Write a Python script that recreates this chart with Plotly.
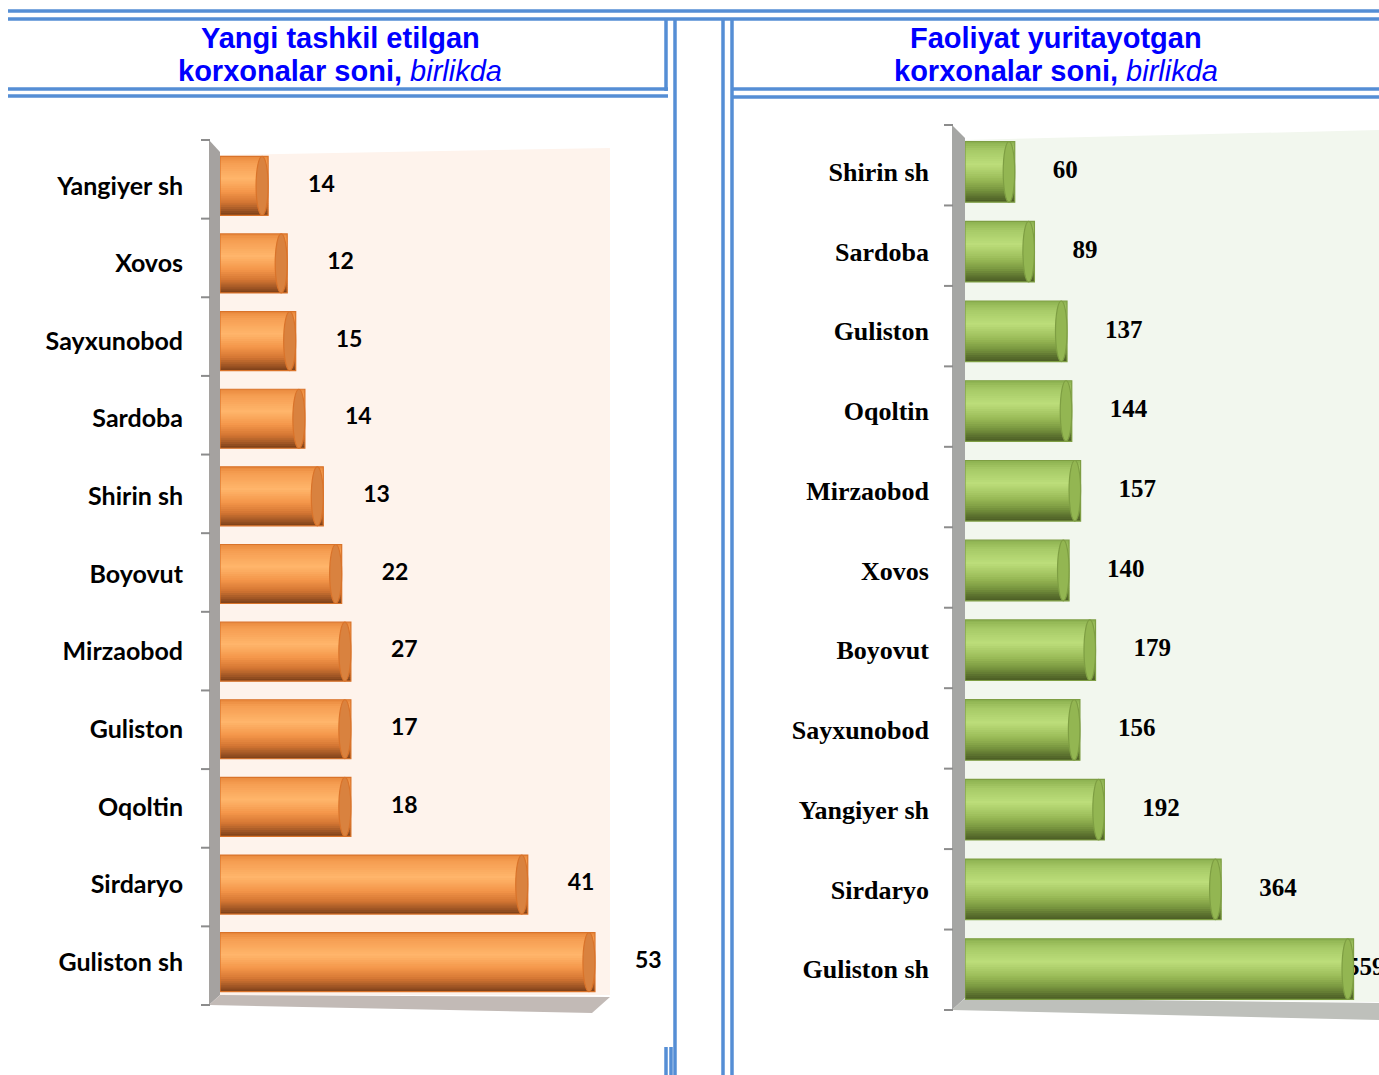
import plotly.graph_objects as go

W_PX, H_PX = 1379, 1075

# left chart: newly created enterprises
left_cats = ["Yangiyer sh", "Xovos", "Sayxunobod", "Sardoba", "Shirin sh", "Boyovut",
             "Mirzaobod", "Guliston", "Oqoltin", "Sirdaryo", "Guliston sh"]
left_labels = [14, 12, 15, 14, 13, 22, 27, 17, 18, 41, 53]
# in the source the cylinder lengths do not follow the printed numbers
left_lengths = [6.8, 9.5, 10.7, 12.0, 14.6, 17.2, 18.5, 18.5, 18.5, 43.5, 53]

# right chart: operating enterprises
right_cats = ["Shirin sh", "Sardoba", "Guliston", "Oqoltin", "Mirzaobod", "Xovos",
              "Boyovut", "Sayxunobod", "Yangiyer sh", "Sirdaryo", "Guliston sh"]
right_values = [60, 89, 137, 144, 157, 140, 179, 156, 192, 364, 559]

left_title = ["<b>Yangi tashkil etilgan</b>", "<b>korxonalar soni,</b> <i>birlikda</i>"]
right_title = ["<b>Faoliyat yuritayotgan</b>", "<b>korxonalar soni,</b> <i>birlikda</i>"]

BORDER = "#558ED5"


def px(x):
    return x / W_PX


def py(y):
    return 1 - y / H_PX


def hex2rgb(h):
    h = h.lstrip("#")
    return [int(h[i:i + 2], 16) for i in (0, 2, 4)]


def gradient(stops, n):
    # colour samples for the cylinder shading, top to bottom
    out = []
    for k in range(n):
        t = (k + 0.5) / n
        for (p0, c0), (p1, c1) in zip(stops[:-1], stops[1:]):
            if p0 <= t <= p1:
                a, b = hex2rgb(c0), hex2rgb(c1)
                f = (t - p0) / (p1 - p0)
                out.append("rgb(%d,%d,%d)" % tuple(round(a[i] + (b[i] - a[i]) * f) for i in range(3)))
                break
    return out


orange_stops = [(0, "#E98A3E"), (0.12, "#F69F53"), (0.38, "#FFB56B"), (0.6, "#F4964A"),
                (0.78, "#D47633"), (0.92, "#9C5424"), (1, "#7A3E17")]
green_stops = [(0, "#8CB150"), (0.14, "#A6C966"), (0.38, "#BCDD7A"), (0.6, "#9EBF5B"),
               (0.78, "#7C9A41"), (0.92, "#5A6F2E"), (1, "#4A5C24")]


def add_cylinders(fig, vals, cats, stops, edge, cap, xa, ya, capw, base, width=0.76, n=28):
    cols = gradient(stops, n)
    h = width / n
    lens = [v - base for v in vals]  # bars grow out of the side wall
    for k, c in enumerate(cols):
        fig.add_bar(x=lens, y=cats, base=base, orientation="h", width=h * 1.8 if k < n - 1 else h,
                    offset=-width / 2 + k * h, marker=dict(color=c, line_width=0),
                    xaxis=xa, yaxis=ya, hoverinfo="skip", showlegend=False)
    fig.add_bar(x=lens, y=cats, base=base, orientation="h", width=width, offset=-width / 2,
                marker=dict(color="rgba(0,0,0,0)", line=dict(color=edge, width=1.2)),
                xaxis=xa, yaxis=ya, hoverinfo="skip", showlegend=False)
    xr = "x" if xa == "x" else "x2"
    yr = "y" if ya == "y" else "y2"
    for i, v in enumerate(vals):
        fig.add_shape(type="circle", xref=xr, yref=yr, x0=v - capw, x1=v,
                      y0=i - width / 2, y1=i + width / 2,
                      fillcolor=cap, line=dict(color=edge, width=1.2))


def poly(pts):
    return "M " + " L ".join("%f,%f" % (px(x), py(y)) for x, y in pts) + " Z"


fig = go.Figure()

# ---- 3D walls (drawn underneath) ----
walls = [
    # left chart: back wall, side wall, floor
    (poly([(220, 155), (610, 148), (610, 995), (220, 995)]), "#FEF3EC"),
    (poly([(209, 140), (220, 152), (220, 995), (209, 1005)]), "#A5A2A0"),
    (poly([(209, 1005), (220, 995), (610, 997), (592, 1013)]), "#C2BAB6"),
    # right chart
    (poly([(965, 140), (1379, 130), (1379, 1002), (965, 998)]), "#F2F7EE"),
    (poly([(952, 125), (965, 138), (965, 998), (952, 1010)]), "#A5A6A4"),
    (poly([(952, 1010), (965, 998), (1379, 1003), (1379, 1020)]), "#BEC0BB"),
]
for path, col in walls:
    fig.add_shape(type="path", path=path, xref="paper", yref="paper", fillcolor=col,
                  line_width=0, layer="below")

# tick marks on the side walls
for k in range(len(left_cats) + 1):
    y = 140 + k * (1005 - 140) / len(left_cats)
    fig.add_shape(type="line", xref="paper", yref="paper", x0=px(201), x1=px(210), y0=py(y), y1=py(y),
                  line=dict(color="#8C8C8C", width=2))
for k in range(len(right_cats) + 1):
    y = 125 + k * (1010 - 125) / len(right_cats)
    fig.add_shape(type="line", xref="paper", yref="paper", x0=px(944), x1=px(953), y0=py(y), y1=py(y),
                  line=dict(color="#8C8C8C", width=2))

# axis scales (px per unit) and ranges
l_px, l_zero = 7.075, 220
r_px, r_zero = 0.679, 974
l_rng = [0, (660 - l_zero) / l_px]
r_rng = [(965 - r_zero) / r_px, (1379 - r_zero) / r_px]

# ---- cylinders ----
add_cylinders(fig, left_lengths, left_cats, orange_stops, "#D9732A", "#D9823F", "x", "y",
              capw=1.7, base=l_rng[0])
add_cylinders(fig, right_values, right_cats, green_stops, "#7E9E43", "#93B652", "x2", "y2",
              capw=17, base=r_rng[0])

# value labels
fig.add_scatter(x=[v + 40 / l_px for v in left_lengths], y=left_cats, mode="text",
                text=[str(v) for v in left_labels], textposition="middle right",
                textfont=dict(family="Lato", size=23, color="black", weight="bold"),
                xaxis="x", yaxis="y", cliponaxis=False, hoverinfo="skip", showlegend=False)
fig.add_scatter(x=[min(v + 38 / r_px, r_rng[1] - 32 / r_px) for v in right_values], y=right_cats,
                mode="text", text=[str(v) for v in right_values], textposition="middle right",
                textfont=dict(family="Liberation Serif", size=25, color="black", weight="bold"),
                xaxis="x2", yaxis="y2", cliponaxis=False, hoverinfo="skip", showlegend=False)

# ---- table borders ----
lines = [
    (8, 11, 1379, 11), (8, 19, 1379, 19),
    (8, 89, 668, 89), (8, 96, 668, 96), (666, 18, 666, 91),
    (675, 18, 675, 1075), (723, 18, 723, 1075), (732, 18, 732, 1075),
    (732, 89, 1379, 89), (732, 97, 1379, 97),
    (666, 1047, 666, 1075), (671, 1047, 671, 1075),
]
for x0, y0, x1, y1 in lines:
    fig.add_shape(type="line", xref="paper", yref="paper", x0=px(x0), y0=py(y0), x1=px(x1), y1=py(y1),
                  line=dict(color=BORDER, width=3.5))

for title, xc in [(left_title, 340), (right_title, 1056)]:
    for txt, yc in zip(title, [38, 71]):
        fig.add_annotation(text=txt, xref="paper", yref="paper", x=px(xc), y=py(yc),
                           xanchor="center", yanchor="middle", showarrow=False,
                           font=dict(family="Liberation Sans", size=29, color="#0000FF"))

n = len(left_cats)
fig.update_layout(
    width=W_PX, height=H_PX, margin=dict(l=0, r=0, t=0, b=0),
    paper_bgcolor="white", plot_bgcolor="rgba(0,0,0,0)",
    barmode="overlay", showlegend=False,
    xaxis=dict(domain=[px(l_zero), px(660)], range=l_rng, visible=False),
    yaxis=dict(domain=[py(1001), py(147)], type="category", categoryorder="array",
               categoryarray=left_cats, range=[n - 0.5, -0.5], showgrid=False, zeroline=False,
               showline=False, ticks="", ticklabelstandoff=36,
               tickfont=dict(family="Lato", size=25, color="black", weight="bold")),
    xaxis2=dict(domain=[px(965), 1], range=r_rng, visible=False, anchor="y2"),
    yaxis2=dict(domain=[py(1009), py(132)], type="category", categoryorder="array",
                categoryarray=right_cats, range=[n - 0.5, -0.5], showgrid=False, zeroline=False,
                showline=False, ticks="", ticklabelstandoff=35, anchor="x2",
                tickfont=dict(family="Liberation Serif", size=26, color="black", weight="bold")),
)

# page without body margin so the figure fills the window exactly
fig.write_html("out.html", config={"displayModeBar": False},
               post_script="document.body.style.margin='0';")
